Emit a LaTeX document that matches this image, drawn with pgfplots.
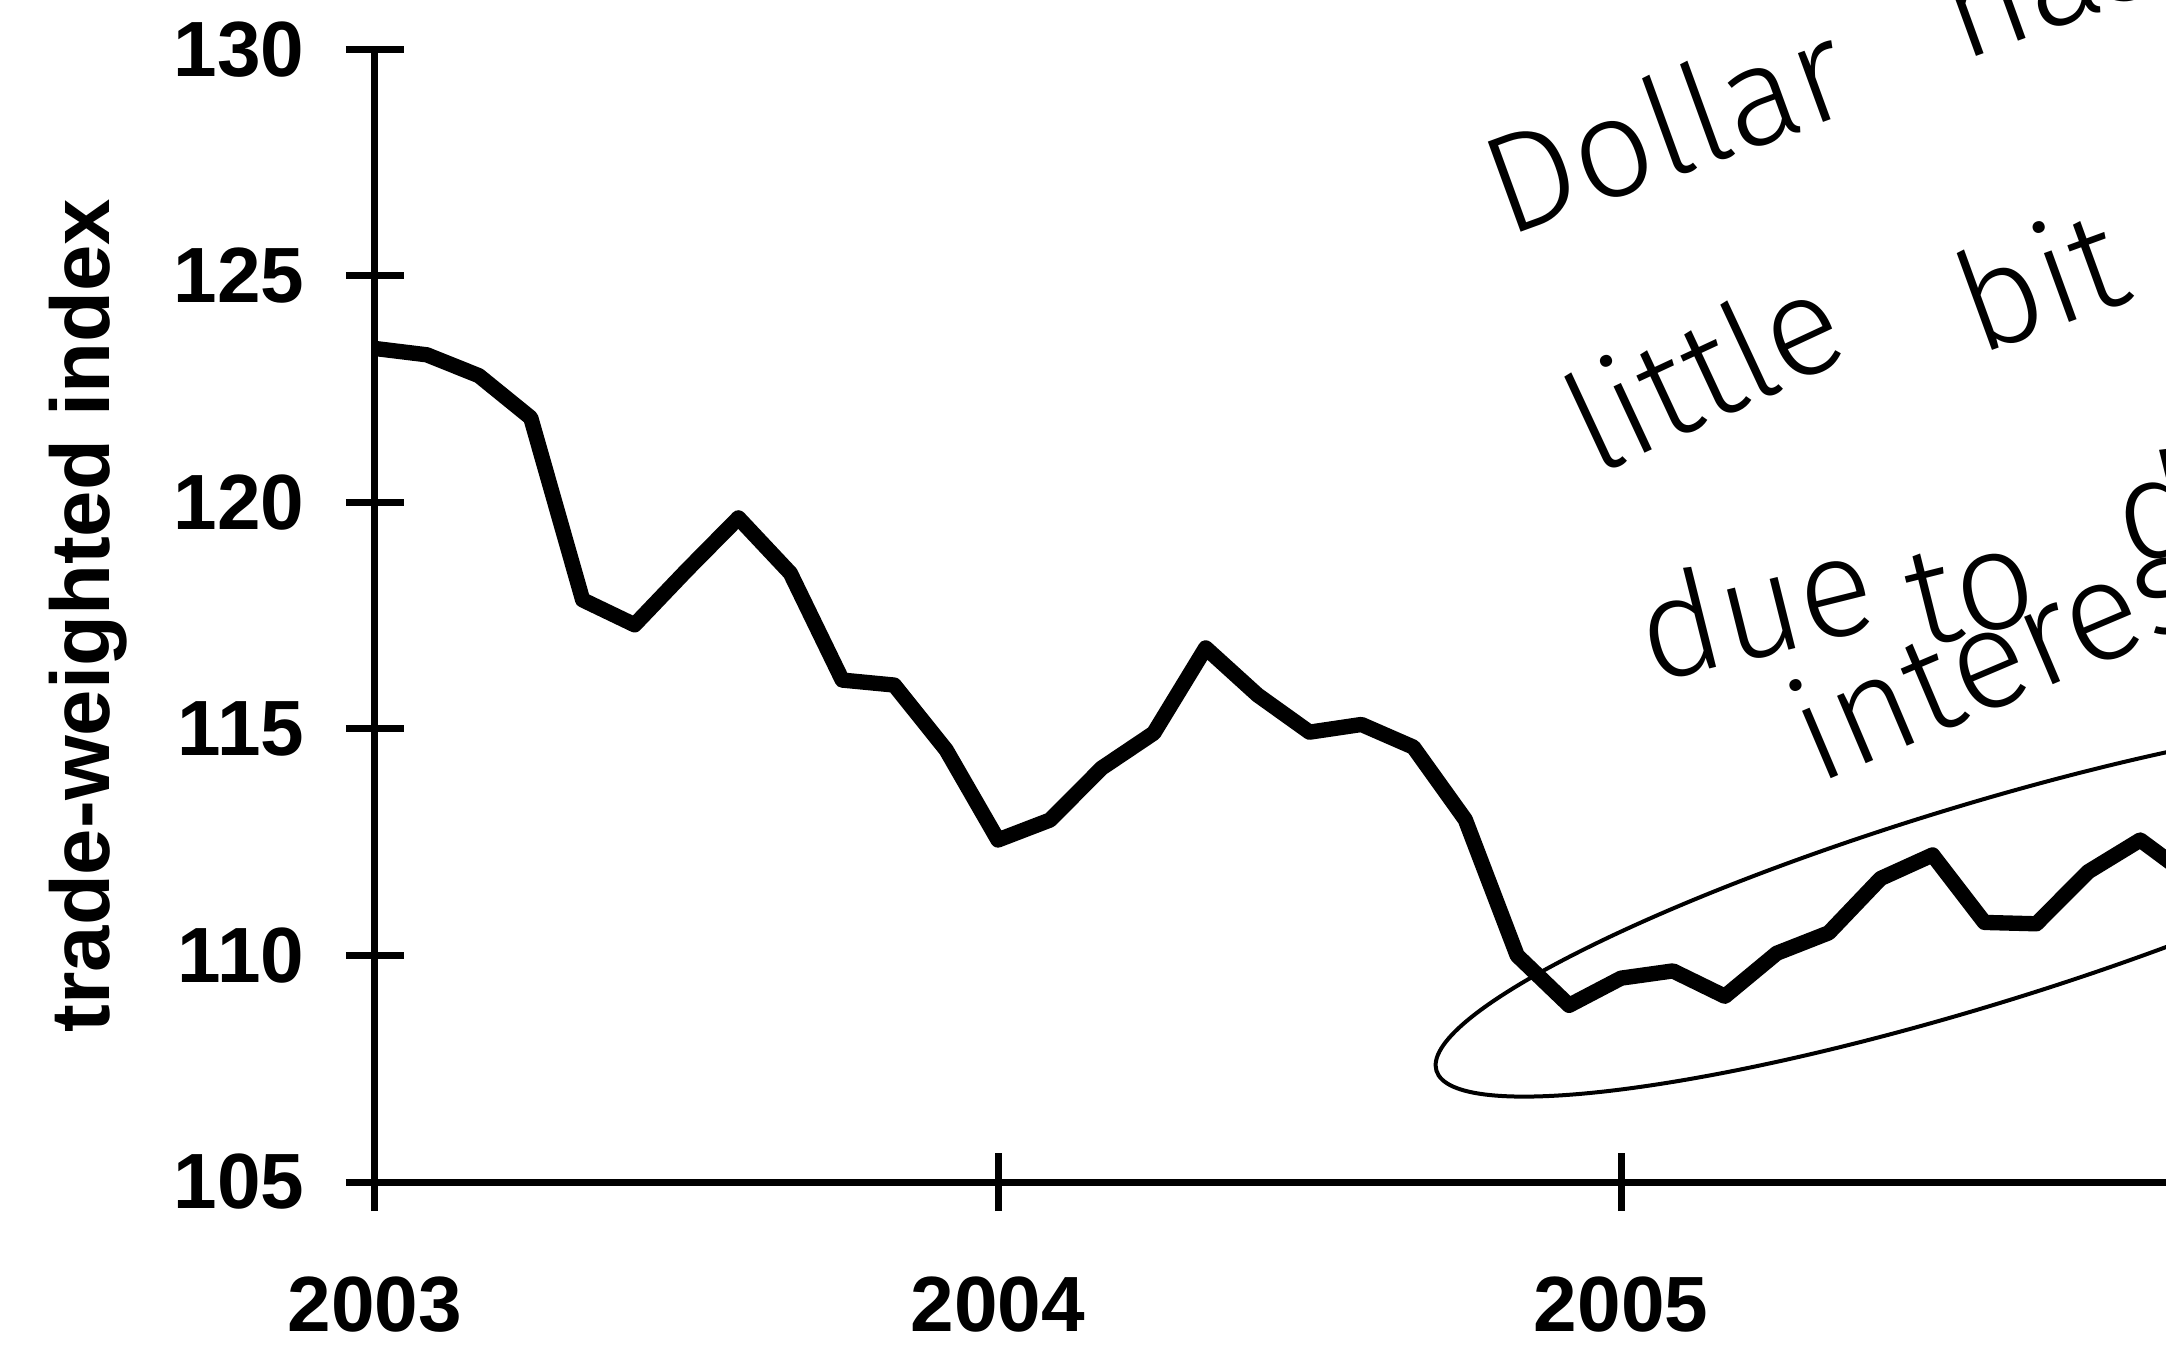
\documentclass[border=0pt]{standalone}
\usepackage{fontspec}
\setmainfont{Liberation Sans}
\newfontfamily\hand{Fira Sans Light}
\usepackage{pgfplots}
\pgfplotsset{compat=1.18}

% trade-weighted dollar index, monthly, Jan 2003 = 0
\pgfplotstableread{
m   v
0   123.40
1   123.26
2   122.80
3   121.87
4   117.85
5   117.30
6   118.50
7   119.66
8   118.44
9   116.08
10  115.97
11  114.54
12  112.55
13  112.99
14  114.14
15  114.91
16  116.79
17  115.75
18  114.93
19  115.10
20  114.60
21  113.00
22  110.00
23  108.90
24  109.50
25  109.66
26  109.10
27  110.05
28  110.50
29  111.70
30  112.22
31  110.73
32  110.70
33  111.85
34  112.55
35  111.70
}\dollar

\begin{document}
\begin{tikzpicture}
\begin{axis}[
  name=ax,
  scale only axis,
  width=537.3bp, height=339.75bp,
  xmin=0, xmax=34.497,
  ymin=105, ymax=130,
  axis lines=left,
  axis line style={line width=2.1bp, -},
  xtick={0,12,24},
  xticklabels={2003,2004,2005},
  ytick={105,110,...,130},
  tick align=center,
  major tick length=17.5bp,
  major tick style={line width=2.1bp, black},
  tick label style={font=\fontsize{23.5bp}{28bp}\selectfont\bfseries, inner sep=0pt},
  /pgf/number format/assume math mode=true,
  xticklabel style={anchor=north, yshift=-19.4bp},
  yticklabel style={anchor=east, xshift=-12.3bp},
  ylabel={trade-weighted index},
  ylabel style={font=\fontsize{25bp}{30bp}\selectfont\bfseries,
    at={(axis description cs:-0.148,0.5)}, anchor=base, inner sep=0pt},
]
\addplot[black, line width=4.6bp, line join=round] table[x=m, y=v] {\dollar};
\end{axis}

% handwritten note, positions in pixels of the page (origin top left)
\begin{scope}[shift={([xshift=-112.5bp,yshift=354.6bp]ax.south west)}, x=0.3bp, y=-0.3bp,
  every node/.style={font=\fontsize{42bp}{50bp}\selectfont\hand, anchor=base west, inner sep=0pt}]
  \node[rotate=20] at (1506,238) {Dollar};
  \node[rotate=20] at (1962,62) {has};
  \node[rotate=25] at (1595,477) {little};
  \node[rotate=20] at (1978,356) {bit};
  \node[rotate=14] at (1651,684) {due};
  \node[rotate=14] at (1920,649) {to};
  \node[rotate=14] at (2127,566) {d};
  \node[rotate=23] at (1817,785) {interest};
  \draw[line width=1.2bp, rotate around={17:(1972,907)}] (1972,907) ellipse [x radius=560, y radius=100];
\end{scope}

\pgfresetboundingbox
\path ([xshift=-112.5bp,yshift=-51bp]ax.south west) rectangle ([yshift=14.85bp]ax.north east);
\end{tikzpicture}
\end{document}
